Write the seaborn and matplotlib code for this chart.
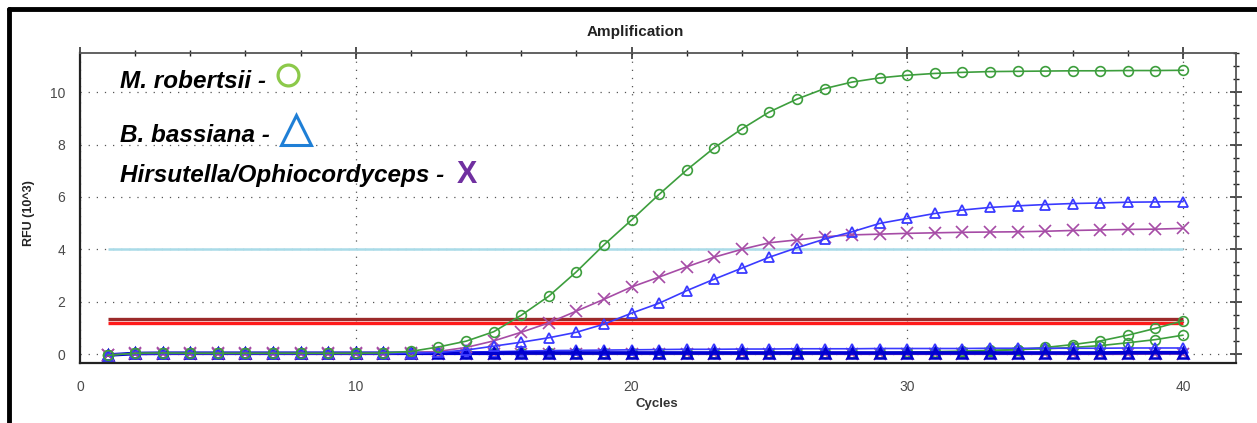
import numpy as np
import pandas as pd
import matplotlib.pyplot as plt
import seaborn as sns
from matplotlib.lines import Line2D
from matplotlib.ticker import MultipleLocator

cycles = list(range(1, 41))

# main amplification curves (RFU x10^3)
m_robertsii = [-0.05, 0.03, 0.04, 0.03, 0.03, 0.03, 0.03, 0.03, 0.03, 0.03,
               0.04, 0.10, 0.27, 0.49, 0.85, 1.48, 2.21, 3.14, 4.17, 5.12,
               6.10, 7.03, 7.88, 8.60, 9.25, 9.74, 10.14, 10.39, 10.55, 10.65,
               10.72, 10.76, 10.79, 10.80, 10.81, 10.82, 10.82, 10.83, 10.83, 10.84]
b_bassiana = [-0.03, 0.02, 0.02, 0.02, 0.02, 0.02, 0.02, 0.02, 0.02, 0.02,
              0.02, 0.03, 0.06, 0.15, 0.30, 0.45, 0.62, 0.83, 1.14, 1.56,
              1.94, 2.42, 2.86, 3.28, 3.70, 4.06, 4.39, 4.67, 4.99, 5.18,
              5.37, 5.50, 5.60, 5.66, 5.71, 5.75, 5.77, 5.80, 5.81, 5.82]
hirsutella = [-0.03, 0.02, 0.02, 0.02, 0.02, 0.02, 0.02, 0.02, 0.02, 0.02,
              0.02, 0.04, 0.10, 0.25, 0.50, 0.83, 1.19, 1.64, 2.09, 2.56,
              2.94, 3.33, 3.70, 4.00, 4.25, 4.36, 4.48, 4.55, 4.58, 4.61,
              4.63, 4.65, 4.66, 4.67, 4.69, 4.72, 4.74, 4.76, 4.77, 4.80]

# late / baseline wells
green_late_a = [-0.05, 0.02, 0.03, 0.03, 0.03, 0.03, 0.03, 0.03, 0.03, 0.03,
                0.03, 0.03, 0.03, 0.03, 0.03, 0.03, 0.03, 0.03, 0.03, 0.03,
                0.03, 0.03, 0.03, 0.03, 0.03, 0.03, 0.03, 0.03, 0.03, 0.04,
                0.05, 0.08, 0.12, 0.17, 0.25, 0.36, 0.50, 0.72, 0.98, 1.27]
green_late_b = [-0.05, 0.02, 0.02, 0.02, 0.02, 0.02, 0.02, 0.02, 0.02, 0.02,
                0.02, 0.02, 0.02, 0.02, 0.02, 0.02, 0.02, 0.02, 0.02, 0.02,
                0.02, 0.02, 0.02, 0.02, 0.02, 0.02, 0.02, 0.03, 0.05, 0.07,
                0.09, 0.11, 0.14, 0.17, 0.20, 0.25, 0.32, 0.43, 0.55, 0.72]
blue_low_a = [-0.03, 0.03, 0.03, 0.03, 0.03, 0.03, 0.03, 0.03, 0.03, 0.03,
              0.03, 0.04, 0.05, 0.07, 0.09, 0.11, 0.13, 0.14, 0.15, 0.16,
              0.17, 0.18, 0.18, 0.19, 0.19, 0.20, 0.20, 0.20, 0.21, 0.21,
              0.21, 0.21, 0.22, 0.22, 0.22, 0.22, 0.22, 0.23, 0.23, 0.23]
blue_low_b = [-0.04, 0.02, 0.03, 0.03, 0.03, 0.03, 0.03, 0.03, 0.03, 0.03,
              0.03, 0.03, 0.03, 0.03, 0.03, 0.04, 0.04, 0.04, 0.04, 0.04,
              0.04, 0.04, 0.04, 0.04, 0.04, 0.04, 0.04, 0.04, 0.04, 0.04,
              0.04, 0.04, 0.04, 0.04, 0.04, 0.04, 0.04, 0.05, 0.05, 0.05]
purple_low = [-0.04, -0.01, -0.01, -0.01, -0.01, -0.01, -0.01, -0.01, -0.01, -0.01,
              -0.01, -0.01, -0.01, -0.01, -0.01, -0.01, -0.01, -0.01, -0.01, -0.01,
              -0.01, -0.01, -0.01, -0.01, -0.01, -0.01, -0.01, -0.01, -0.01, -0.01,
              -0.01, -0.01, -0.01, -0.01, -0.01, -0.01, -0.01, -0.01, 0.00, 0.00]

thresholds = [4.03, 1.34, 1.20]
threshold_colors = ["#a9dbe8", "#9b2a2a", "#ff1a1a"]
threshold_widths = [1.8, 2.4, 2.4]

green = "#3d9e3d"
blue = "#3a3aff"
purple = "#a64ca6"

sns.set_style("white")
plt.rcParams["font.family"] = ["Liberation Sans", "DejaVu Sans"]

fig = plt.figure(figsize=(12.57, 4.23), dpi=100)
ax = fig.add_axes([80 / 1257, 1 - 363.3 / 423, 1156 / 1257, 310.3 / 423])

# threshold lines
for t, c, w in zip(thresholds, threshold_colors, threshold_widths):
    ax.hlines(t, 1, 40, color=c, lw=w, zorder=1.5)


def style(color, marker, size, edge=1.2, lw=1.2):
    return dict(color=color, marker=marker, markersize=size, markeredgewidth=edge,
                markeredgecolor=color, markerfacecolor="none", lw=lw)


series = [
    (purple_low, style(purple, "x", 8)),
    (green_late_b, style(green, "o", 7)),
    (green_late_a, style(green, "o", 7)),
    (blue_low_a, style(blue, "^", 7.5, 1.3)),
    (blue_low_b, style("#0000d0", "^", 7.5, 1.8, 2.6)),
    (hirsutella, style(purple, "x", 8.5)),
    (b_bassiana, style(blue, "^", 7.5, 1.3)),
    (m_robertsii, style(green, "o", 7)),
]
for vals, kw in series:
    sns.lineplot(x=cycles, y=vals, ax=ax, zorder=3, **kw)

ax.set_xlim(0, 41.92)
ax.set_ylim(-0.355, 11.5)
ax.xaxis.set_major_locator(MultipleLocator(10))
ax.xaxis.set_minor_locator(MultipleLocator(2))
ax.yaxis.set_major_locator(MultipleLocator(2))
ax.yaxis.set_minor_locator(MultipleLocator(0.5))
ax.grid(True, which="major", color="#555555", lw=0.9, linestyle=(0, (1, 5.5)))
ax.set_axisbelow(True)

ax.tick_params(axis="both", which="major", direction="inout", length=8, width=1.1,
               colors="#222222", labelcolor="#4a4a4a", labelsize=10)
ax.tick_params(axis="both", which="minor", direction="inout", length=5, width=1.0,
               colors="#222222")
ax.tick_params(axis="x", which="major", pad=8)
ax.tick_params(axis="y", which="major", pad=6.5)
ax.tick_params(top=True, right=True, which="both")
for sp in ["left", "bottom"]:
    ax.spines[sp].set_color("#222222")
    ax.spines[sp].set_linewidth(1.6)
for sp in ["top", "right"]:
    ax.spines[sp].set_color("#555555")
    ax.spines[sp].set_linewidth(1.3)

ax.set_xlabel("")
ax.set_ylabel("")
fig.text(657 / 1257, 1 - 404 / 423, "Cycles", ha="center", va="center",
         fontsize=9.5, fontweight="bold", color="#333333")
fig.text(29 / 1257, 1 - 213 / 423, "RFU (10^3)", ha="center", va="center",
         rotation=90, fontsize=9, fontweight="bold", color="#222222")
fig.text(635 / 1257, 1 - 32 / 423, "Amplification", ha="center", va="center",
         fontsize=11, fontweight="bold", color="#222222")

# species key
key_font = dict(fontsize=17.5, fontweight="bold", fontstyle="italic", color="black",
                va="baseline", ha="left")
fig.text(120 / 1257, 1 - 88 / 423, "M. robertsii -", **key_font)
fig.text(120 / 1257, 1 - 142 / 423, "B. bassiana -", **key_font)
fig.text(120 / 1257, 1 - 182 / 423, "Hirsutella/Ophiocordyceps -", **key_font)
fig.add_artist(Line2D([288 / 1257], [1 - 75.5 / 423], marker="o", markersize=15,
                      markerfacecolor="none", markeredgecolor="#8cc94a", mew=2.3,
                      transform=fig.transFigure))
fig.add_artist(Line2D([296 / 1257], [1 - 130 / 423], marker="^", markersize=21,
                      markerfacecolor="none", markeredgecolor="#1f7fd6", mew=2.2,
                      transform=fig.transFigure))
fig.text(467 / 1257, 1 - 183 / 423, "X", fontsize=22, fontweight="bold",
         color="#7030a0", ha="center", va="baseline")

# frame on left/top edges
fig.add_artist(Line2D([9 / 1257, 9 / 1257], [0, 1 - 9 / 423], color="black", lw=3.5,
                      transform=fig.transFigure))
fig.add_artist(Line2D([9 / 1257, 1], [1 - 9 / 423, 1 - 9 / 423], color="black", lw=3.5,
                      transform=fig.transFigure))

fig.savefig("out.png", dpi=100)
